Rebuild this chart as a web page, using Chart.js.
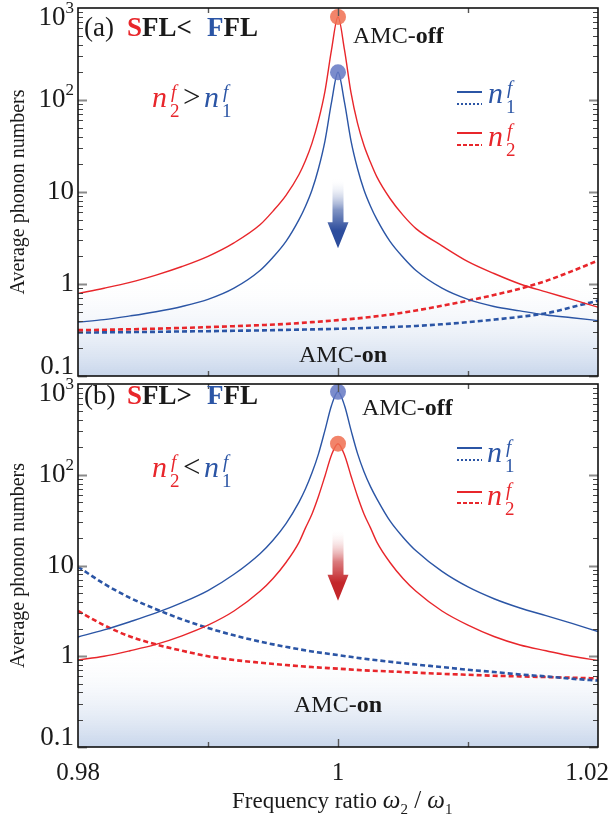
<!DOCTYPE html>
<html>
<head>
<meta charset="utf-8">
<script src="https://cdn.jsdelivr.net/npm/chart.js@4.4.0/dist/chart.umd.min.js"></script>
<style>
html, body { margin: 0; padding: 0; background: #fff; }
#wrap { position: relative; width: 609px; height: 823px; overflow: hidden; font-family: 'Liberation Serif', 'Times New Roman', serif; }
canvas { position: absolute; left: 0; }
.t { position: absolute; white-space: nowrap; line-height: 1; color: #1a1a1a; }
.i { font-style: italic; }
</style>
</head>
<body>
<div id="wrap">
  <canvas id="chartA" width="609" height="395" style="top:0px"></canvas>
  <canvas id="chartB" width="609" height="447" style="top:376px"></canvas>
</div>
<script>
// frequency ratio w2/w1, dense near the resonance
const ratioFine = [0.98, 0.982, 0.984, 0.986, 0.988, 0.99, 0.992, 0.994, 0.995, 0.996, 0.997, 0.9975, 0.998, 0.9985, 0.999, 0.9995, 1,
                   1.0005, 1.001, 1.0015, 1.002, 1.0025, 1.003, 1.004, 1.005, 1.006, 1.008, 1.01, 1.012, 1.014, 1.016, 1.018, 1.02];
const ratioCoarse = [0.98, 0.982, 0.984, 0.986, 0.988, 0.99, 0.992, 0.994, 0.996, 0.998, 1,
                     1.002, 1.004, 1.006, 1.008, 1.01, 1.012, 1.014, 1.016, 1.018, 1.02];

// (a) SFL < FFL
const a_n2Off = [0.79, 0.9, 1.04, 1.25, 1.55, 2.0, 2.8, 4.4, 6.2, 9.2, 15.5, 22, 34, 60, 125, 350, 800,
                 350, 120, 56, 32, 21, 14.5, 8.5, 5.6, 4.0, 2.6, 1.75, 1.3, 1.0, 0.82, 0.68, 0.56];
const a_n1Off = [0.385, 0.41, 0.45, 0.5, 0.57, 0.68, 0.9, 1.4, 1.95, 2.9, 5, 7, 10.5, 18, 36, 94, 200,
                 94, 36, 18, 10.5, 7, 5, 2.9, 1.95, 1.4, 0.9, 0.68, 0.57, 0.51, 0.46, 0.43, 0.4];
const a_n2On = [0.315, 0.318, 0.322, 0.327, 0.333, 0.34, 0.348, 0.357, 0.368, 0.385, 0.405,
                0.43, 0.465, 0.515, 0.58, 0.66, 0.76, 0.89, 1.08, 1.38, 1.8];
const a_n1On = [0.297, 0.298, 0.3, 0.302, 0.305, 0.307, 0.31, 0.313, 0.317, 0.321, 0.326,
                0.332, 0.34, 0.35, 0.365, 0.385, 0.41, 0.44, 0.48, 0.56, 0.66];

// (b) SFL > FFL
const b_n1Off = [1.63, 1.95, 2.4, 3.0, 3.9, 5.3, 8.0, 13.5, 19, 29, 50, 70, 105, 170, 310, 580, 820,
                 580, 310, 172, 108, 74, 54, 31, 20.5, 14.5, 8.6, 5.8, 4.3, 3.4, 2.8, 2.3, 1.87];
const b_n2Off = [0.91, 1.0, 1.15, 1.35, 1.68, 2.2, 3.15, 5.2, 7.2, 10.8, 18, 26, 37, 58, 97, 165, 220,
                 165, 97, 58, 37, 26, 18, 10.8, 7.2, 5.2, 3.15, 2.2, 1.65, 1.33, 1.15, 1.0, 0.9];
const b_n1On = [9.7, 6.3, 4.4, 3.3, 2.55, 2.05, 1.7, 1.45, 1.27, 1.13, 1.03,
                0.94, 0.87, 0.81, 0.76, 0.71, 0.67, 0.63, 0.6, 0.565, 0.54];
const b_n2On = [3.16, 2.2, 1.65, 1.35, 1.15, 1.0, 0.91, 0.85, 0.8, 0.76, 0.73,
                0.7, 0.68, 0.66, 0.64, 0.625, 0.61, 0.6, 0.59, 0.58, 0.57];

// AMC-off peak markers
const a_peaks = [800, 200];   // n2, n1
const b_peaks = [820, 220];   // n1, n2

const xTickValues = [0.98, 1, 1.02];
const xTickLabels = ['0.98', '1', '1.02'];
const yTickValues = [0.1, 1, 10, 100, 1000];
const yTickLabels = ['0.1', '1', '10', '10^2', '10^3'];

const RED = '#e8262b';
const BLUE = '#2b55a5';
const SERIF = "'Liberation Serif', 'Times New Roman', serif";

const pts = (xs, ys) => xs.map((x, i) => ({ x: x, y: ys[i] }));

function solid(data, color) {
    return { data: data, borderColor: color, borderWidth: 1.4, pointRadius: 0,
             cubicInterpolationMode: 'monotone', order: 2 };
}
function dashed(data, color) {
    return { data: data, borderColor: color, borderWidth: 2.6, borderDash: [5, 3], pointRadius: 0,
             cubicInterpolationMode: 'monotone', order: 3 };
}
function dot(value, color) {
    return { data: [{ x: 1, y: value }], showLine: false, pointRadius: 8, pointHoverRadius: 8,
             pointBackgroundColor: color, pointBorderWidth: 0, clip: false, order: 0 };
}

function drawArrow(ctx, x, yTop, yTip, color) {
    const hw = 5.5, hh = 10.5, hl = 26;
    const g = ctx.createLinearGradient(0, yTop, 0, yTip);
    g.addColorStop(0, 'rgba(255,255,255,0)');
    g.addColorStop(0.45, color + '99');
    g.addColorStop(0.75, color);
    g.addColorStop(1, color);
    ctx.beginPath();
    ctx.moveTo(x - hw, yTop);
    ctx.lineTo(x + hw, yTop);
    ctx.lineTo(x + hw, yTip - hl);
    ctx.lineTo(x + hh, yTip - hl);
    ctx.lineTo(x, yTip);
    ctx.lineTo(x - hh, yTip - hl);
    ctx.lineTo(x - hw, yTip - hl);
    ctx.closePath();
    ctx.fillStyle = g;
    ctx.fill();
}

// shading, arrow, frame with inward ticks, tick labels, legend samples
const panelPlugin = {
    id: 'panel',
    beforeDatasetsDraw(chart, args, o) {
        const { ctx, chartArea: a, scales: { y } } = chart;
        const top = y.getPixelForValue(o.shadeFrom);
        const g = ctx.createLinearGradient(0, top, 0, a.bottom);
        g.addColorStop(0, 'rgba(255,255,255,0)');
        g.addColorStop(1, '#c8d6eb');
        ctx.save();
        ctx.fillStyle = g;
        ctx.fillRect(a.left, top, a.right - a.left, a.bottom - top);
        ctx.restore();
    },
    afterDatasetsDraw(chart, args, o) {
        const { ctx, scales: { x, y } } = chart;
        ctx.save();
        drawArrow(ctx, x.getPixelForValue(1), y.getPixelForValue(o.arrowFrom), y.getPixelForValue(o.arrowTo), o.arrowColor);
        ctx.restore();
    },
    afterDraw(chart, args, o) {
        const { ctx, chartArea: a, scales: { x, y } } = chart;
        ctx.save();
        // y ticks, both sides
        for (let e = -1; e < 3; e++) {
            for (let m = 1; m < 10; m++) {
                const py = Math.round(y.getPixelForValue(m * Math.pow(10, e))) + 0.5;
                const major = m === 1;
                ctx.lineWidth = major ? 2 : 1.2;
                ctx.strokeStyle = major ? '#8a8a8a' : '#444';
                const len = major ? 9 : 5;
                ctx.beginPath();
                ctx.moveTo(a.left, py); ctx.lineTo(a.left + len, py);
                ctx.moveTo(a.right, py); ctx.lineTo(a.right - len, py);
                ctx.stroke();
            }
        }
        // x ticks, top and bottom
        [0.99, 1, 1.01].forEach(v => {
            const px = Math.round(x.getPixelForValue(v)) + 0.5;
            const len = v === 1 ? 8 : 5;
            ctx.lineWidth = 1.4;
            ctx.strokeStyle = '#555';
            ctx.beginPath();
            ctx.moveTo(px, a.bottom); ctx.lineTo(px, a.bottom - len);
            ctx.moveTo(px, a.top); ctx.lineTo(px, a.top + len);
            ctx.stroke();
        });
        // frame
        ctx.lineWidth = 1.6;
        ctx.strokeStyle = '#111';
        ctx.strokeRect(a.left, a.top, a.right - a.left, a.bottom - a.top);

        // y tick labels
        ctx.fillStyle = '#1a1a1a';
        ctx.textBaseline = 'middle';
        ctx.textAlign = 'right';
        yTickValues.forEach((v, i) => {
            let py = y.getPixelForValue(v);
            if (i === 0) py -= 9;
            if (i === yTickValues.length - 1) py += 10;
            const parts = yTickLabels[i].split('^');
            const xr = a.left - 4;
            if (parts.length === 2) {
                ctx.font = '17px ' + SERIF;
                ctx.fillText(parts[1], xr, py - 9);
                const w = ctx.measureText(parts[1]).width;
                ctx.font = '27px ' + SERIF;
                ctx.fillText(parts[0], xr - w, py);
            } else {
                ctx.font = '27px ' + SERIF;
                ctx.fillText(parts[0], xr, py);
            }
        });

        // x tick labels (bottom panel only), last one kept inside the page
        if (o.xLabels) {
            ctx.font = '25px ' + SERIF;
            xTickValues.forEach((v, i) => {
                const last = i === xTickValues.length - 1;
                ctx.textAlign = last ? 'right' : 'center';
                const px = last ? chart.width : x.getPixelForValue(v);
                ctx.fillText(xTickLabels[i], px, a.bottom + 26);
            });
        }

        // legend line samples
        ctx.lineCap = 'butt';
        o.legend.forEach(s => {
            const yy = s.y - o.canvasTop;
            ctx.strokeStyle = s.color;
            ctx.lineWidth = s.dash ? 2.2 : 2;
            ctx.setLineDash(s.dash || []);
            ctx.beginPath();
            ctx.moveTo(457, yy); ctx.lineTo(482, yy);
            ctx.stroke();
        });
        ctx.setLineDash([]);
        ctx.restore();
    }
};

function yAxis() {
    return {
        type: 'logarithmic', min: 0.1, max: 1000,
        grid: { display: false, drawTicks: false },
        border: { display: false },
        ticks: { display: false },
        title: { display: true, text: 'Average phonon numbers', color: '#1a1a1a',
                 font: { family: SERIF, size: 20 }, padding: { top: 7, bottom: 0 } },
        afterFit(s) { s.width = 78; s.paddingTop = 0; s.paddingBottom = 0; }
    };
}

Chart.defaults.font.family = SERIF;

const chartA = new Chart(document.getElementById('chartA'), {
    type: 'line',
    data: {
        datasets: [
            dot(a_peaks[0], 'rgba(240,110,80,0.85)'),
            dot(a_peaks[1], 'rgba(100,120,195,0.85)'),
            solid(pts(ratioFine, a_n2Off), RED),
            solid(pts(ratioFine, a_n1Off), BLUE),
            dashed(pts(ratioCoarse, a_n2On), RED),
            dashed(pts(ratioCoarse, a_n1On), BLUE)
        ]
    },
    options: {
        responsive: false,
        devicePixelRatio: 1,
        animation: false,
        layout: { padding: { top: 7, right: 11, bottom: 19, left: 0 } },
        scales: {
            x: { type: 'linear', min: 0.98, max: 1.02, display: false },
            y: yAxis()
        },
        plugins: {
            legend: { display: false },
            tooltip: { enabled: false },
            panel: {
                canvasTop: 0, shadeFrom: 1.3, xLabels: false,
                arrowFrom: 14, arrowTo: 2.44, arrowColor: '#2c4c9c',
                legend: [
                    { y: 92, color: BLUE }, { y: 104, color: BLUE, dash: [2, 2] },
                    { y: 133, color: RED }, { y: 145, color: RED, dash: [4, 2] }
                ]
            }
        }
    },
    plugins: [panelPlugin]
});

const chartB = new Chart(document.getElementById('chartB'), {
    type: 'line',
    data: {
        datasets: [
            dot(b_peaks[0], 'rgba(100,120,195,0.85)'),
            dot(b_peaks[1], 'rgba(240,110,80,0.85)'),
            solid(pts(ratioFine, b_n1Off), BLUE),
            solid(pts(ratioFine, b_n2Off), RED),
            dashed(pts(ratioCoarse, b_n1On), BLUE),
            dashed(pts(ratioCoarse, b_n2On), RED)
        ]
    },
    options: {
        responsive: false,
        devicePixelRatio: 1,
        animation: false,
        layout: { padding: { top: 1, right: 11, bottom: 0, left: 0 } },
        scales: {
            x: {
                type: 'linear', min: 0.98, max: 1.02,
                grid: { display: false, drawTicks: false },
                border: { display: false },
                ticks: { display: false },
                afterFit(s) { s.height = 76; s.paddingLeft = 0; s.paddingRight = 0; }
            },
            y: yAxis()
        },
        plugins: {
            legend: { display: false },
            tooltip: { enabled: false },
            panel: {
                canvasTop: 376, shadeFrom: 1.2, xLabels: true,
                arrowFrom: 25, arrowTo: 4.1, arrowColor: '#c3262a',
                legend: [
                    { y: 448, color: BLUE }, { y: 460, color: BLUE, dash: [2, 2] },
                    { y: 492, color: RED }, { y: 503, color: RED, dash: [4, 2] }
                ]
            }
        }
    },
    plugins: [panelPlugin]
});

// annotations as real text
const wrap = document.getElementById('wrap');
function note(html, x, base, size, css) {
    const d = document.createElement('div');
    d.className = 't';
    d.innerHTML = html;
    d.style.left = x + 'px';
    d.style.top = (base - 0.8375 * size) + 'px';
    d.style.fontSize = size + 'px';
    if (css) d.style.cssText += css;
    wrap.appendChild(d);
}
function nf(x, base, sub, color) {
    note('n', x, base, 30, 'font-style:italic;color:' + color);
    note('f', x + 19, base - 9, 19, 'font-style:italic;color:' + color);
    note(sub, x + 18, base + 10, 19, 'color:' + color);
}

// panel (a)
note('(a)', 84, 37, 27);
note('<b><span style="color:' + RED + '">S</span>FL&lt;</b>', 127, 37, 27);
note('<b><span style="color:' + BLUE + '">F</span>FL</b>', 207, 37, 27);
note('AMC-<b>off</b>', 353, 43, 24);
note('AMC-<b>on</b>', 299, 362, 24);
nf(152, 107, '2', RED);
note('&gt;', 183, 107, 31);
nf(204, 107, '1', BLUE);
nf(488, 103, '1', BLUE);
nf(488, 146, '2', RED);

// panel (b)
note('(b)', 84, 405, 27);
note('<b><span style="color:' + RED + '">S</span>FL&gt;</b>', 127, 405, 27);
note('<b><span style="color:' + BLUE + '">F</span>FL</b>', 207, 405, 27);
note('AMC-<b>off</b>', 362, 415, 24);
note('AMC-<b>on</b>', 294, 712, 24);
nf(152, 477, '2', RED);
note('&lt;', 183, 477, 31);
nf(204, 477, '1', BLUE);
nf(487, 462, '1', BLUE);
nf(487, 505, '2', RED);

// x axis title
note('Frequency ratio <span class="i" style="font-size:25px">ω</span><sub style="font-size:15px">2</sub>' +
     '<span style="font-size:25px"> / </span><span class="i" style="font-size:25px">ω</span><sub style="font-size:15px">1</sub>',
     232, 806, 23);
</script>
</body>
</html>
